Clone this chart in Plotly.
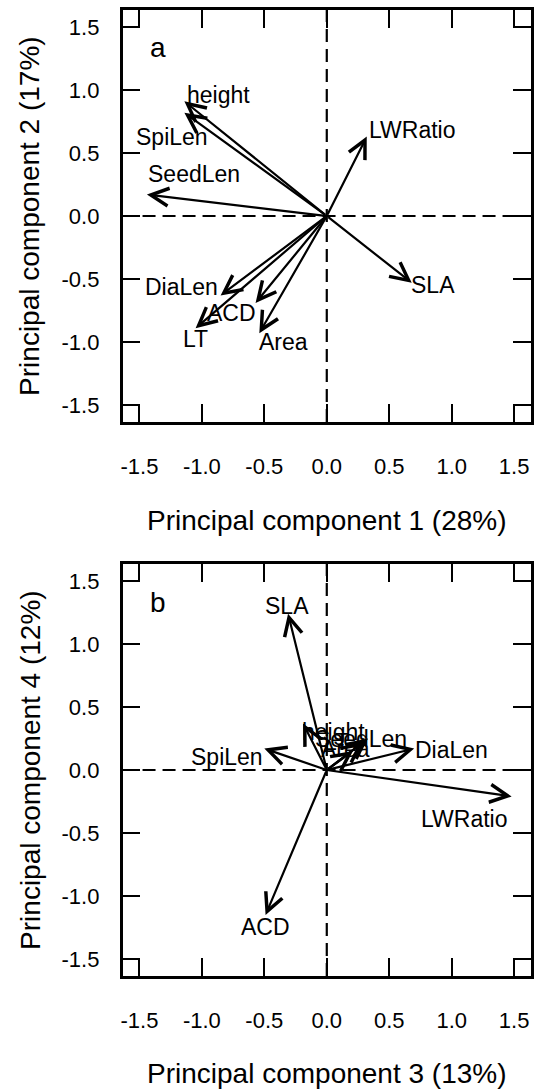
import plotly.graph_objects as go

# ---------------- data ----------------
var_names = ["height", "SpiLen", "SeedLen", "LWRatio", "SLA", "DiaLen", "ACD", "LT", "Area"]

# panel a: loadings on PC1 / PC2 (arrow tips)
pc1 = [-1.14, -1.14, -1.44, 0.32, 0.68, -0.85, -0.57, -1.05, -0.54]
pc2 = [0.91, 0.82, 0.17, 0.63, -0.53, -0.63, -0.69, -0.89, -0.93]
# panel a: label positions
lab_a_x = [-0.87, -1.24, -1.06, 0.69, 0.85, -1.16, -0.76, -1.05, -0.35]
lab_a_y = [0.96, 0.63, 0.33, 0.68, -0.55, -0.56, -0.77, -0.98, -1.00]

# panel b: loadings on PC3 / PC4 (arrow tips)
pc3 = [-0.19, -0.50, 0.33, 1.48, -0.31, 0.70, -0.49, 0.29, 0.21]
pc4 = [0.37, 0.17, 0.25, -0.21, 1.24, 0.17, -1.15, 0.22, 0.15]
# panel b: label positions
lab_b_x = [0.05, -0.80, 0.27, 1.10, -0.32, 1.00, -0.49, 0.08, 0.15]
lab_b_y = [0.30, 0.10, 0.25, -0.39, 1.30, 0.16, -1.25, 0.22, 0.17]

tick_vals = [-1.5, -1.0, -0.5, 0.0, 0.5, 1.0, 1.5]
tick_text = ["-1.5", "-1.0", "-0.5", "0.0", "0.5", "1.0", "1.5"]
axis_range = [-1.635, 1.635]

panel_letters = ["a", "b"]
letter_x = [-1.35, -1.35]
letter_y = [1.34, 1.33]

x_titles = ["Principal component 1 (28%)", "Principal component 3 (13%)"]
y_titles = ["Principal component 2 (17%)", "Principal component 4 (12%)"]

# ---------------- layout ----------------
W, H = 534, 1091
FONT = "Liberation Sans, Arial, sans-serif"

fig = go.Figure()
# invisible traces to register axes
fig.add_trace(go.Scatter(x=[None], y=[None], xaxis="x", yaxis="y", showlegend=False))
fig.add_trace(go.Scatter(x=[None], y=[None], xaxis="x2", yaxis="y2", showlegend=False))

px_x = [121, 531]
px_ya = [10, 422]
px_yb = [564, 976]

def dom_x(p):
    return [p[0] / W, p[1] / W]

def dom_y(p):
    return [(H - p[1]) / H, (H - p[0]) / H]

axis_common = dict(
    range=axis_range, tickvals=tick_vals, ticktext=tick_text,
    showline=True, linewidth=2.5, linecolor="black", mirror="ticks",
    ticks="inside", ticklen=18, tickwidth=1.8, tickcolor="black",
    showgrid=False, zeroline=False,
    tickfont=dict(family=FONT, size=22, color="black"),
    fixedrange=True,
)

fig.update_layout(
    width=W, height=H,
    margin=dict(l=0, r=0, t=0, b=0),
    paper_bgcolor="white", plot_bgcolor="white",
    showlegend=False,
    xaxis=dict(domain=dom_x(px_x), anchor="y", ticklabelstandoff=23, **axis_common),
    yaxis=dict(domain=dom_y(px_ya), anchor="x", ticklabelstandoff=16, **axis_common),
    xaxis2=dict(domain=dom_x(px_x), anchor="y2", ticklabelstandoff=23, **axis_common),
    yaxis2=dict(domain=dom_y(px_yb), anchor="x2", ticklabelstandoff=16, **axis_common),
)

panels = [
    ("x", "y", pc1, pc2, lab_a_x, lab_a_y),
    ("x2", "y2", pc3, pc4, lab_b_x, lab_b_y),
]

annotations = []
shapes = []
for i, (xr, yr, vx, vy, lx, ly) in enumerate(panels):
    # dashed reference lines through origin
    shapes.append(dict(type="line", xref=xr, yref=yr + " domain", x0=0, x1=0, y0=0, y1=1,
                       line=dict(color="black", width=2.2, dash="13px,7px")))
    shapes.append(dict(type="line", xref=xr + " domain", yref=yr, x0=0, x1=1, y0=0, y1=0,
                       line=dict(color="black", width=2.2, dash="13px,7px")))
    for name, tx, ty, nx, ny in zip(var_names, vx, vy, lx, ly):
        annotations.append(dict(
            x=tx, y=ty, ax=0, ay=0, xref=xr, yref=yr, axref=xr, ayref=yr,
            text="", showarrow=True, arrowhead=5, arrowsize=1.6, arrowwidth=2.2,
            arrowcolor="black", standoff=0, startstandoff=0,
        ))
        annotations.append(dict(
            x=nx, y=ny, xref=xr, yref=yr, text=name, showarrow=False,
            xanchor="center", yanchor="middle",
            font=dict(family=FONT, size=23, color="black"),
        ))
    annotations.append(dict(
        x=letter_x[i], y=letter_y[i], xref=xr, yref=yr, text=panel_letters[i],
        showarrow=False, xanchor="center", yanchor="middle",
        font=dict(family=FONT, size=28, color="black"),
    ))

# axis titles
title_y_px = [520, 1073]
for i, (py, t) in enumerate(zip(title_y_px, x_titles)):
    annotations.append(dict(
        x=(px_x[0] + px_x[1]) / 2 / W, y=(H - py) / H, xref="paper", yref="paper",
        text=t, showarrow=False, xanchor="center", yanchor="middle",
        font=dict(family=FONT, size=28, color="black"),
    ))
for i, (p, t) in enumerate(zip([px_ya, px_yb], y_titles)):
    annotations.append(dict(
        x=28 / W, y=(H - (p[0] + p[1]) / 2) / H, xref="paper", yref="paper",
        text=t, showarrow=False, textangle=-90, xanchor="center", yanchor="middle",
        font=dict(family=FONT, size=28, color="black"),
    ))

fig.update_layout(annotations=annotations, shapes=shapes)
fig.write_html("out.html")
